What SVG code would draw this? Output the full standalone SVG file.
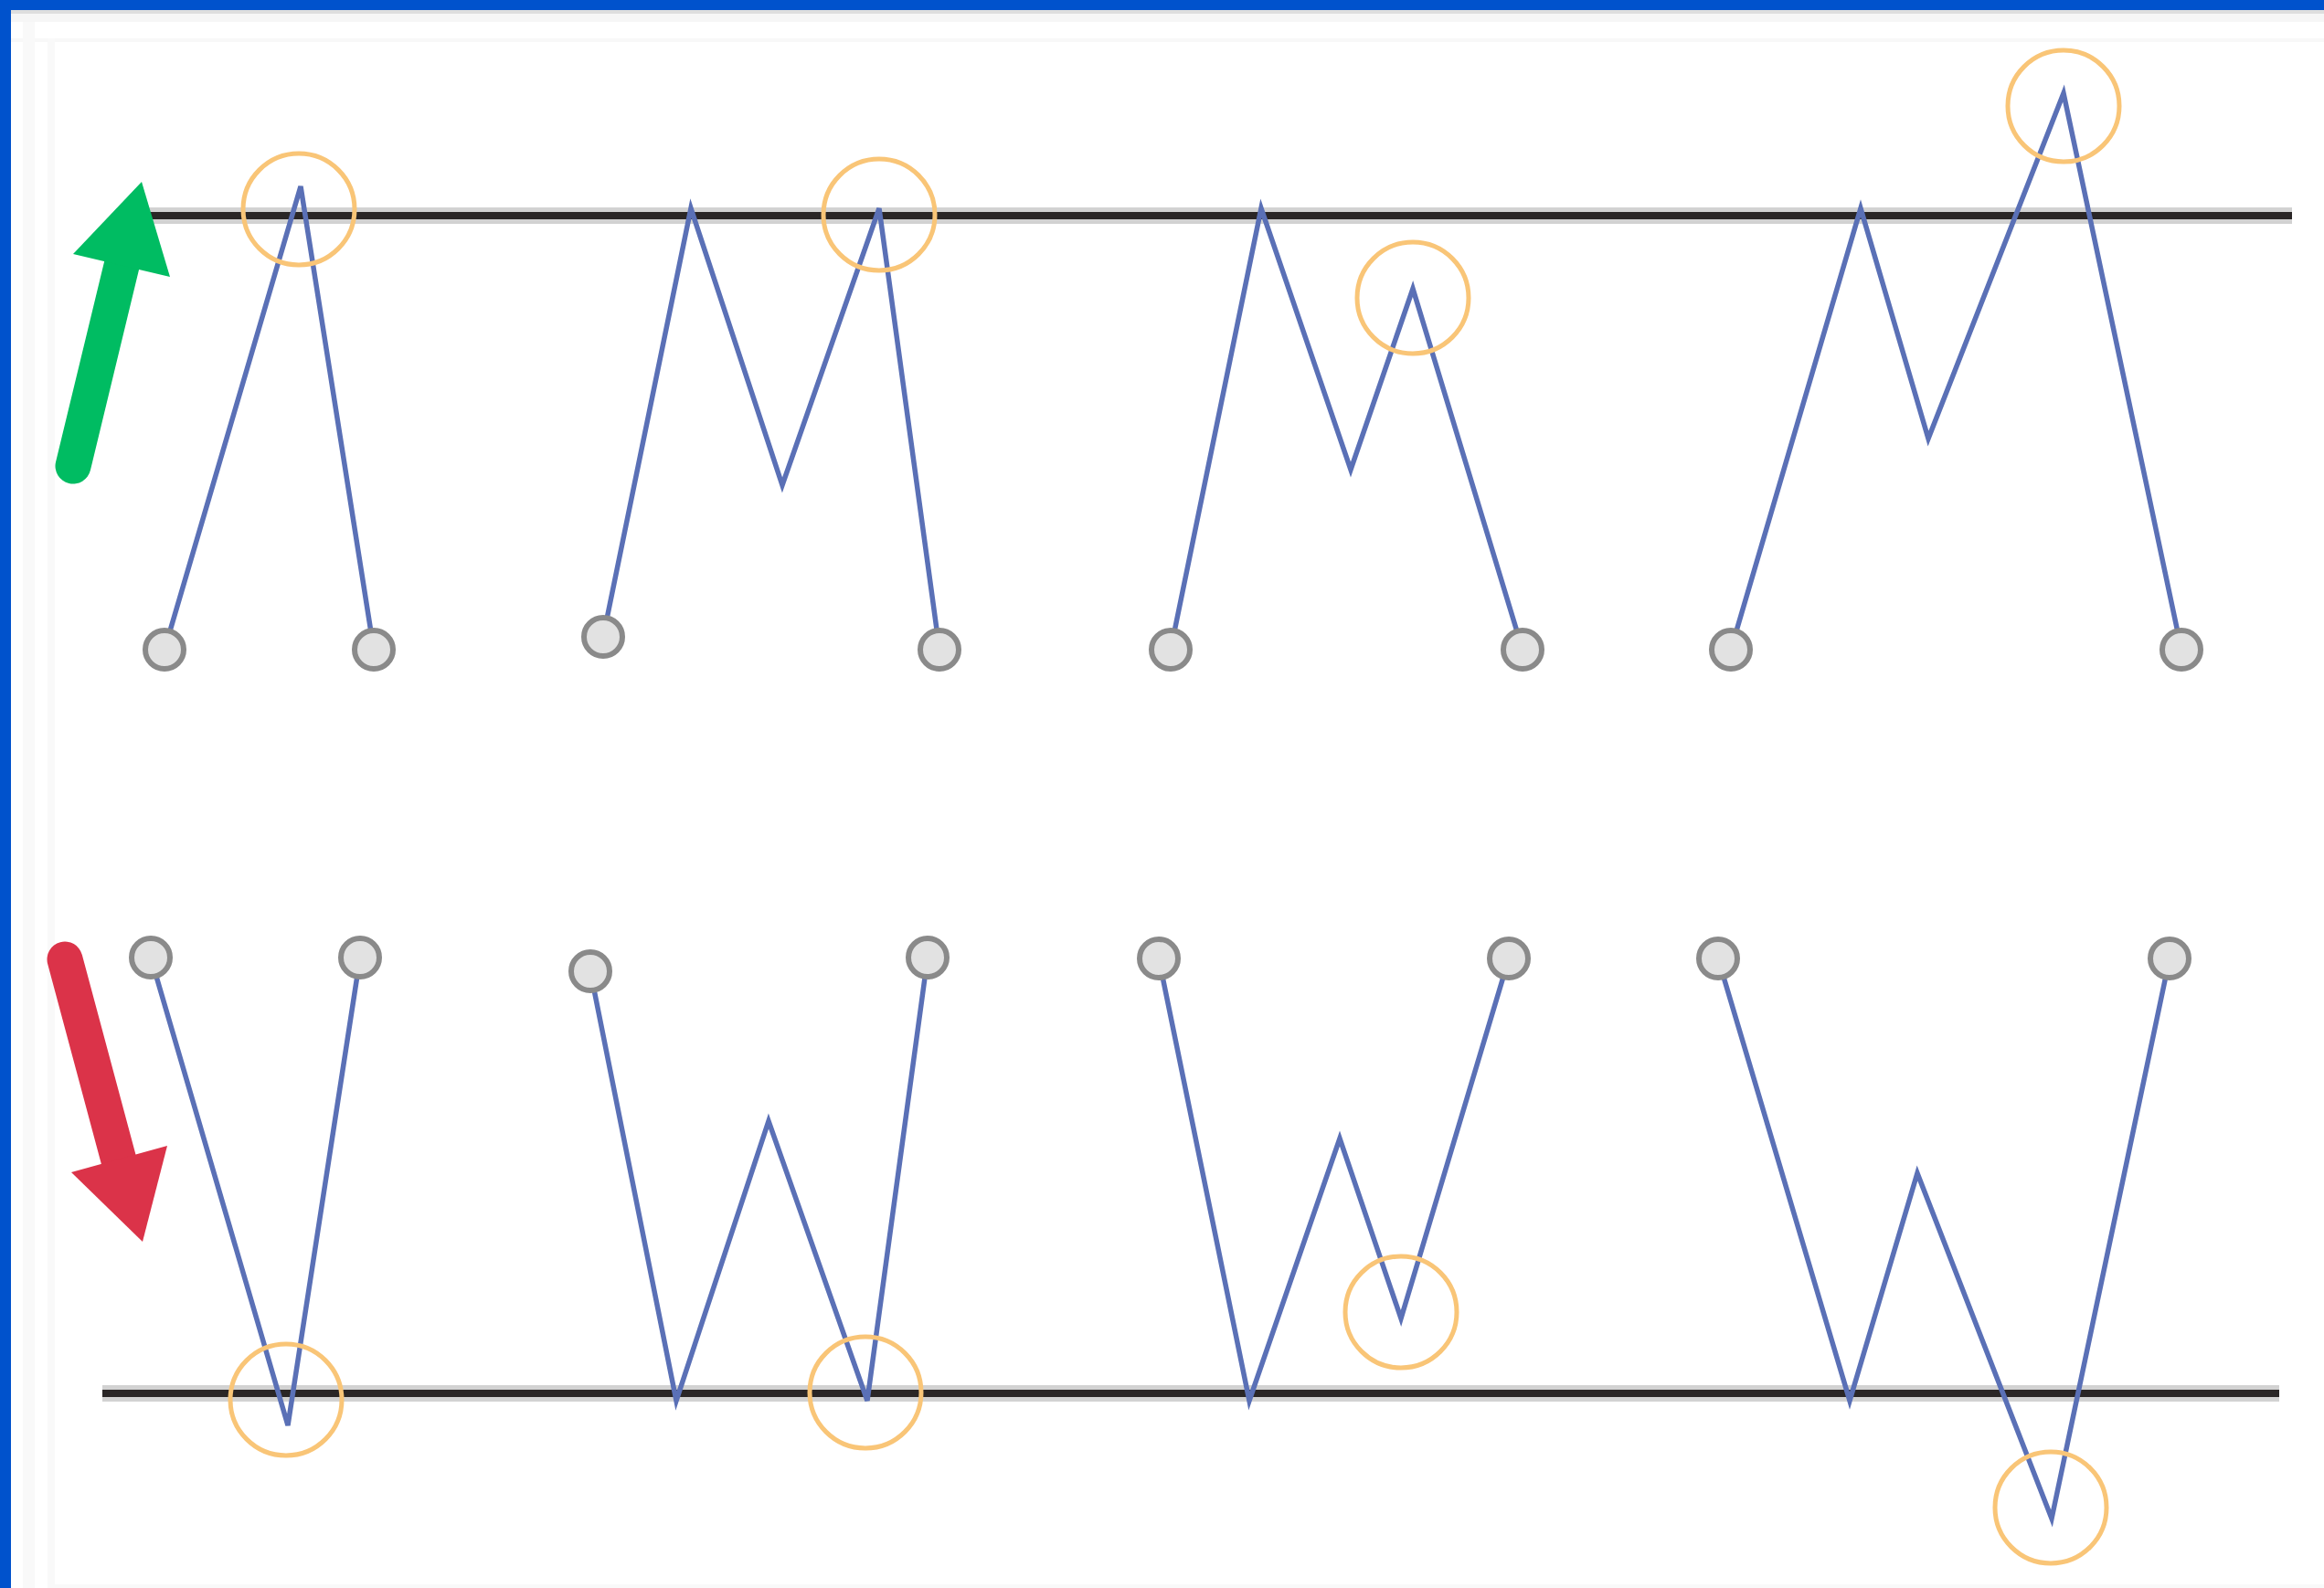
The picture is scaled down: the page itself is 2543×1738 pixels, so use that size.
<svg xmlns="http://www.w3.org/2000/svg" width="2543" height="1738" viewBox="0 0 2543 1738">
<style>
.base{stroke:#2a2626;stroke-width:8;fill:none}
.halo{stroke:#b4b4b4;stroke-width:18;fill:none;opacity:0.6}
.wave{fill:none;stroke:#5a70b6;stroke-width:5.5;stroke-linejoin:miter;stroke-miterlimit:4}
.pt{fill:#e2e2e2;stroke:#8a8a8a;stroke-width:6}
.hl{fill:none;stroke:#f9c577;stroke-width:5}
</style>
<rect x="0" y="0" width="2543" height="1738" fill="#ffffff"/>
<g id="frame">
<rect x="12" y="11" width="2531" height="4" fill="#dedede"/>
<rect x="12" y="15" width="2531" height="9" fill="#f6f6f6"/>
<rect x="12" y="42" width="2531" height="4" fill="#f8f8f8"/>
<rect x="25" y="24" width="13" height="1714" fill="#f9f9f9"/>
<rect x="52" y="42" width="8" height="1696" fill="#f9f9f9"/>
<rect x="60" y="1734" width="2483" height="4" fill="#f9f9f9"/>
<rect x="0" y="0" width="2543" height="11" fill="#0052cc"/>
<rect x="0" y="0" width="12" height="1738" fill="#0052cc"/>
</g>
<g id="baselines">
<line class="halo" x1="163" y1="236" x2="2508" y2="236"/>
<line class="base" x1="163" y1="236" x2="2508" y2="236"/>
<line class="halo" x1="112" y1="1525" x2="2494" y2="1525"/>
<line class="base" x1="112" y1="1525" x2="2494" y2="1525"/>
</g>
<g id="connectors">
<polyline class="wave" points="180,711 329,204 409,711"/>
<polyline class="wave" points="660,697 756,228 856,531 962,228 1028,711"/>
<polyline class="wave" points="1281,711 1380,228 1478,514 1546,316 1666,711"/>
<polyline class="wave" points="1894,711 2036,228 2110,480 2258,102 2387,711"/>
<polyline class="wave" points="165,1048 315,1560 394,1048"/>
<polyline class="wave" points="646,1063 740,1533 841,1227 949,1533 1015,1048"/>
<polyline class="wave" points="1268,1049 1367,1533 1466,1246 1533,1443 1651,1049"/>
<polyline class="wave" points="1880,1049 2024,1533 2098,1284 2245,1662 2374,1049"/>
</g>
<g id="highlights">
<circle class="hl" cx="327" cy="229" r="61"/>
<circle class="hl" cx="962" cy="235" r="61"/>
<circle class="hl" cx="1546" cy="326" r="61"/>
<circle class="hl" cx="2258" cy="116" r="61"/>
<circle class="hl" cx="313" cy="1532" r="61"/>
<circle class="hl" cx="947" cy="1524" r="61"/>
<circle class="hl" cx="1533" cy="1436" r="61"/>
<circle class="hl" cx="2244" cy="1650" r="61"/>
</g>
<g id="points">
<circle class="pt" cx="180" cy="711" r="21"/>
<circle class="pt" cx="409" cy="711" r="21"/>
<circle class="pt" cx="660" cy="697" r="21"/>
<circle class="pt" cx="1028" cy="711" r="21"/>
<circle class="pt" cx="1281" cy="711" r="21"/>
<circle class="pt" cx="1666" cy="711" r="21"/>
<circle class="pt" cx="1894" cy="711" r="21"/>
<circle class="pt" cx="2387" cy="711" r="21"/>
<circle class="pt" cx="165" cy="1048" r="21"/>
<circle class="pt" cx="394" cy="1048" r="21"/>
<circle class="pt" cx="646" cy="1063" r="21"/>
<circle class="pt" cx="1015" cy="1048" r="21"/>
<circle class="pt" cx="1268" cy="1049" r="21"/>
<circle class="pt" cx="1651" cy="1049" r="21"/>
<circle class="pt" cx="1880" cy="1049" r="21"/>
<circle class="pt" cx="2374" cy="1049" r="21"/>
</g>
<g id="arrow-up">
<line x1="80" y1="510" x2="133" y2="291" stroke="#00bc62" stroke-width="39" stroke-linecap="round"/>
<polygon points="155,199 80,278 186,303" fill="#00bc62"/>
</g>
<g id="arrow-down">
<line x1="71" y1="1050" x2="130" y2="1270" stroke="#db3349" stroke-width="39" stroke-linecap="round"/>
<polygon points="78,1283 183,1254 156,1359" fill="#db3349"/>
</g>
</svg>
